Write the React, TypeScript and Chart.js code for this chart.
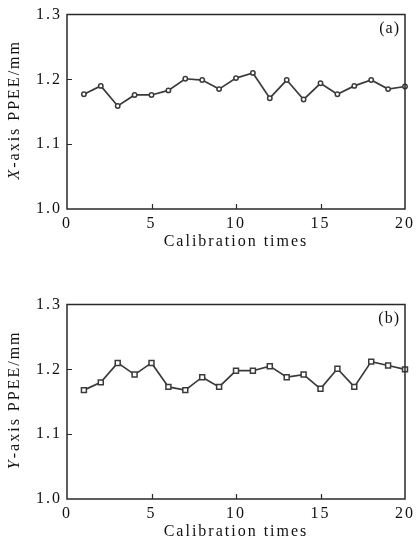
import React, { useEffect, useRef } from "react";
import { Chart, registerables } from "chart.js";

Chart.register(...registerables);

const calibrationTimes = [1, 2, 3, 4, 5, 6, 7, 8, 9, 10, 11, 12, 13, 14, 15, 16, 17, 18, 19, 20];
const xAxisPPEE = [1.177, 1.19, 1.159, 1.176, 1.176, 1.183, 1.201, 1.199, 1.185, 1.202, 1.21, 1.171, 1.199, 1.169, 1.194, 1.177, 1.19, 1.199, 1.185, 1.189];
const yAxisPPEE = [1.168, 1.18, 1.21, 1.192, 1.21, 1.173, 1.168, 1.188, 1.173, 1.198, 1.198, 1.205, 1.188, 1.192, 1.17, 1.201, 1.173, 1.212, 1.206, 1.2];
const xTickValues = [0, 5, 10, 15, 20];
const yTickValues = [1.0, 1.1, 1.2, 1.3];
const xTitle = "Calibration times";
const yTitleRest = "-axis PPEE/mm";

const FONT = "'Liberation Serif', 'Times New Roman', serif";
const INK = "#2a2a2a";

const framePlugin = {
  id: "frame",
  beforeDraw(chart: any) {
    (chart.ctx as any).letterSpacing = "2px";
  },
  afterDraw(chart: any, _args: any, opts: any) {
    const ctx = chart.ctx;
    const a = chart.chartArea;
    const xs = chart.scales.x;
    const ys = chart.scales.y;
    ctx.save();
    ctx.strokeStyle = INK;
    ctx.lineWidth = 1.5;
    ctx.beginPath();
    ctx.rect(a.left, a.top, a.right - a.left, a.bottom - a.top);
    ctx.stroke();
    ctx.beginPath();
    ctx.lineWidth = 1.2;
    for (const v of xTickValues.slice(1, -1)) {
      const px = Math.round(xs.getPixelForValue(v)) + 0.5;
      ctx.moveTo(px, a.bottom);
      ctx.lineTo(px, a.bottom - 5);
    }
    for (const v of yTickValues.slice(1, -1)) {
      const py = Math.round(ys.getPixelForValue(v)) + 0.5;
      ctx.moveTo(a.left, py);
      ctx.lineTo(a.left + 5, py);
    }
    ctx.stroke();

    (ctx as any).letterSpacing = "1px";
    ctx.fillStyle = "#111";
    ctx.font = `16px ${FONT}`;
    ctx.textAlign = "right";
    ctx.textBaseline = "middle";
    ctx.fillText(opts.panel, a.right - 5, a.top + 14);

    (ctx as any).letterSpacing = "2px";
    ctx.textAlign = "center";
    ctx.fillText(xTitle, (a.left + a.right) / 2, a.bottom + 33);

    // rotated y title with italic axis letter
    ctx.translate(15, (a.top + a.bottom) / 2 - 2);
    ctx.rotate(-Math.PI / 2);
    ctx.textAlign = "left";
    ctx.font = `italic 16px ${FONT}`;
    const w1 = ctx.measureText(opts.letter).width;
    ctx.font = `16px ${FONT}`;
    const w2 = ctx.measureText(yTitleRest).width;
    const start = -(w1 + w2) / 2;
    ctx.font = `italic 16px ${FONT}`;
    ctx.fillText(opts.letter, start, 0);
    ctx.font = `16px ${FONT}`;
    ctx.fillText(yTitleRest, start + w1, 0);
    ctx.restore();
  },
};

function makeConfig(values: number[], pointStyle: string, radius: number, panel: string, letter: string): any {
  return {
    type: "line",
    data: {
      datasets: [
        {
          data: calibrationTimes.map((t, i) => ({ x: t, y: values[i] })),
          borderColor: "#3a3a3a",
          borderWidth: 1.7,
          pointStyle,
          pointRadius: radius,
          pointBorderWidth: 1.5,
          pointBorderColor: "#3a3a3a",
          pointBackgroundColor: "#ffffff",
          tension: 0,
          clip: false,
        },
      ],
    },
    options: {
      responsive: false,
      animation: false,
      events: [],
      layout: { padding: { top: 14, right: 9, left: 0, bottom: 0 } },
      plugins: {
        legend: { display: false },
        tooltip: { enabled: false },
        frame: { panel, letter },
      },
      scales: {
        x: {
          type: "linear",
          min: 0,
          max: 20,
          afterBuildTicks: (s: any) => {
            s.ticks = xTickValues.map((v) => ({ value: v }));
          },
          ticks: { font: { family: FONT, size: 16 }, color: "#111", padding: 5, maxRotation: 0, autoSkip: false },
          grid: { display: false, drawTicks: false },
          border: { display: false },
          afterFit: (s: any) => {
            s.height = 51;
          },
        },
        y: {
          type: "linear",
          min: 1.0,
          max: 1.3,
          afterBuildTicks: (s: any) => {
            s.ticks = yTickValues.map((v) => ({ value: v }));
          },
          ticks: {
            font: { family: FONT, size: 16 },
            color: "#111",
            padding: 5,
            callback: (v: any) => Number(v).toFixed(1),
          },
          grid: { display: false, drawTicks: false },
          border: { display: false },
          afterFit: (s: any) => {
            s.width = 67;
          },
        },
      },
    },
    plugins: [framePlugin],
  };
}

function Panel({ top, values, pointStyle, radius, panel, letter }: any) {
  const ref = useRef<HTMLCanvasElement | null>(null);
  useEffect(() => {
    if (!ref.current) return;
    const chart = new Chart(ref.current, makeConfig(values, pointStyle, radius, panel, letter));
    return () => chart.destroy();
  }, []);
  return (
    <canvas
      ref={ref}
      width={418}
      height={260}
      style={{ position: "absolute", left: 0, top, width: 418, height: 260 }}
    />
  );
}

export default function App() {
  return (
    <div style={{ position: "fixed", left: 0, top: 0, width: 418, height: 550, background: "#fff" }}>
      <Panel top={0} values={xAxisPPEE} pointStyle="circle" radius={2.2} panel="(a)" letter="X" />
      <Panel top={290} values={yAxisPPEE} pointStyle="rect" radius={3.5} panel="(b)" letter="Y" />
    </div>
  );
}
